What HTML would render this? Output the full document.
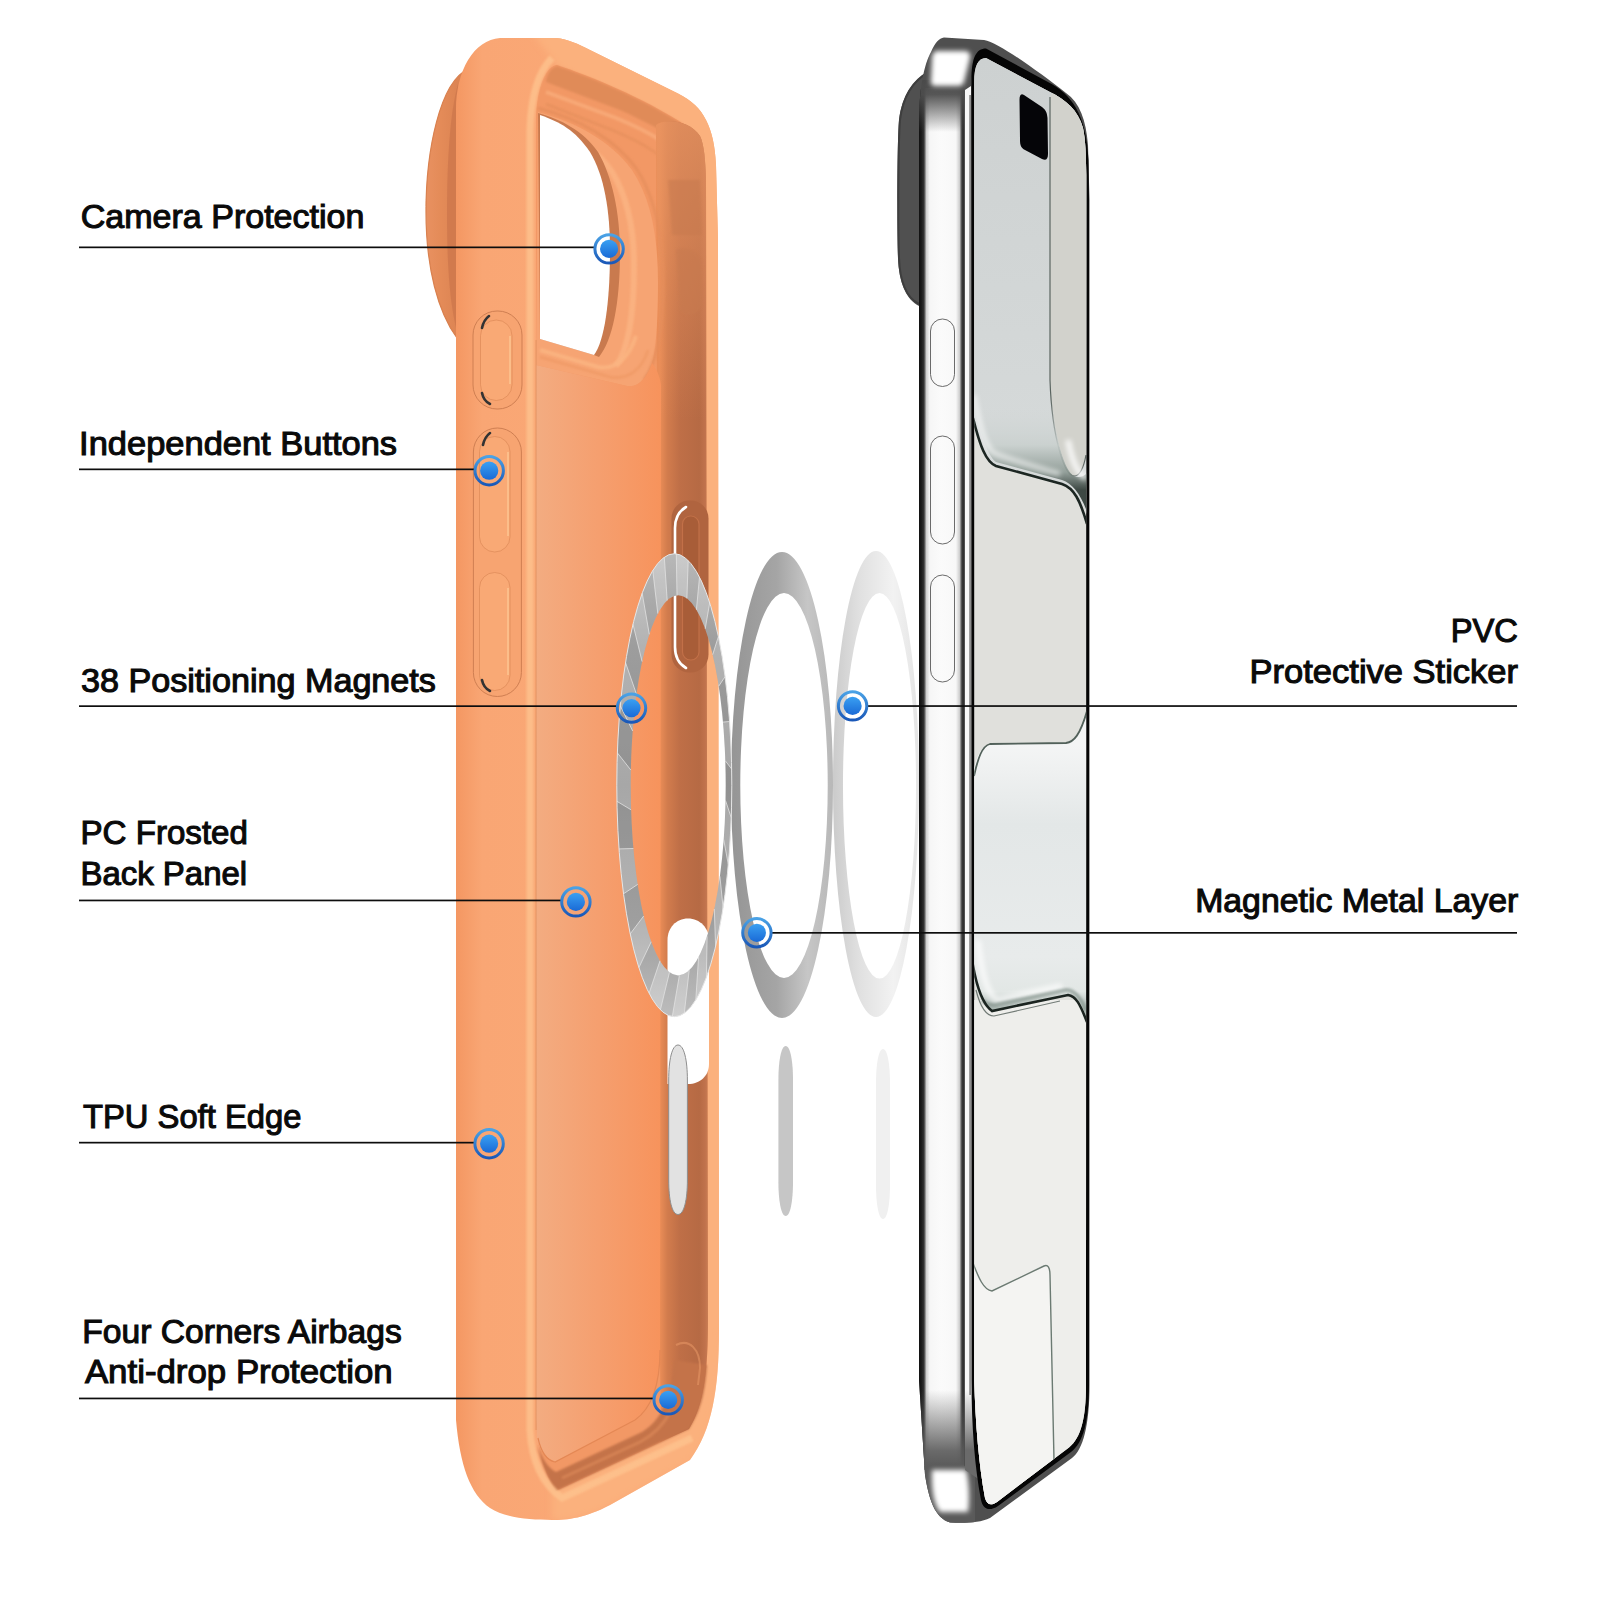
<!DOCTYPE html>
<html><head><meta charset="utf-8">
<style>
html,body{margin:0;padding:0;background:#fff;width:1600px;height:1600px;overflow:hidden}
svg{display:block;position:absolute;left:0;top:0}
.t{font-family:"Liberation Sans",sans-serif;font-size:33.5px;fill:#0a0a0a;stroke:#0a0a0a;stroke-width:1.1px}
</style></head><body>
<svg width="1600" height="1600" viewBox="0 0 1600 1600">
<defs>
  <linearGradient id="gStrip" x1="0" x2="1" y1="0" y2="0">
    <stop offset="0" stop-color="#f49762"/>
    <stop offset="0.1" stop-color="#f9a674"/>
    <stop offset="0.8" stop-color="#fbaa77"/>
    <stop offset="1" stop-color="#fbb07c"/>
  </linearGradient>
  <linearGradient id="gPanel" x1="0" x2="1" y1="0" y2="0">
    <stop offset="0" stop-color="#f3ac81"/>
    <stop offset="0.5" stop-color="#f59f6f"/>
    <stop offset="1" stop-color="#f7935c"/>
  </linearGradient>
  <linearGradient id="gWall" x1="0" x2="1" y1="0" y2="0">
    <stop offset="0" stop-color="#f09262"/>
    <stop offset="0.2" stop-color="#d78252"/>
    <stop offset="0.45" stop-color="#c27248"/>
    <stop offset="1" stop-color="#d5845a"/>
  </linearGradient>
  <linearGradient id="gBump" x1="0" x2="1" y1="0" y2="0">
    <stop offset="0" stop-color="#e99460"/>
    <stop offset="0.6" stop-color="#e08650"/>
    <stop offset="1" stop-color="#c06c42"/>
  </linearGradient>
  <linearGradient id="gRing" x1="0" x2="0" y1="0" y2="1">
    <stop offset="0" stop-color="#4aa2e6"/>
    <stop offset="1" stop-color="#1a58b8"/>
  </linearGradient>
  <linearGradient id="gDot" x1="0" x2="0" y1="0" y2="1">
    <stop offset="0" stop-color="#3aa0f2"/>
    <stop offset="1" stop-color="#1a6ad6"/>
  </linearGradient>
</defs>

<!-- ===== ORANGE CASE ===== -->
<defs>
  <linearGradient id="gWall2" x1="660" x2="709" y1="0" y2="0" gradientUnits="userSpaceOnUse">
    <stop offset="0" stop-color="#ea8d57"/>
    <stop offset="0.15" stop-color="#d27c4d"/>
    <stop offset="0.4" stop-color="#bf6f47"/>
    <stop offset="0.8" stop-color="#b66a44"/>
    <stop offset="0.92" stop-color="#c0724c"/>
    <stop offset="1" stop-color="#cc8055"/>
  </linearGradient>
  <filter id="cblur" x="-20%" y="-20%" width="140%" height="140%"><feGaussianBlur stdDeviation="3"/></filter>
  <filter id="cblur1" x="-20%" y="-20%" width="140%" height="140%"><feGaussianBlur stdDeviation="1.2"/></filter>
</defs>
<!-- camera bump -->
<defs><linearGradient id="gBump2" x1="424" x2="458" y1="0" y2="0" gradientUnits="userSpaceOnUse"><stop offset="0" stop-color="#e99262"/><stop offset="0.5" stop-color="#e48b58"/><stop offset="1" stop-color="#dc8453"/></linearGradient></defs><path d="M468 69 C440 82 426 150 426 212 C426 268 438 312 457 338 L458 90 Z" fill="url(#gBump2)"/>
<path d="M458 84 C450 112 447 160 447 212 C447 262 449 300 457 332 Z" fill="#cf784c" opacity="0.85"/>
<path d="M468 69 C440 82 426 150 426 212 C426 268 438 312 457 338" fill="none" stroke="#d9814f" stroke-width="1.2"/>
<!-- silhouette -->
<path d="M500 38 L556 38 C568 39 578 44 590 50 L678 93.5 C692 101 700 108 706 120 C712 132 715 145 716 165 L718 240 L719 1330 C719 1390 712 1430 690 1460 L610 1505 C585 1518 568 1520 552 1520 C530 1520 505 1518 490 1508 C470 1494 460 1465 456 1420 L456 110 C456 70 474 40 500 38 Z" fill="url(#gStrip)"/>
<!-- top rim light overlay -->
<clipPath id="cpCase"><path d="M500 38 L556 38 C568 39 578 44 590 50 L678 93.5 C692 101 700 108 706 120 C712 132 715 145 716 165 L718 240 L719 1330 C719 1390 712 1430 690 1460 L610 1505 C585 1518 568 1520 552 1520 C530 1520 505 1518 490 1508 C470 1494 460 1465 456 1420 L456 110 C456 70 474 40 500 38 Z"/></clipPath>
<g clip-path="url(#cpCase)"><path d="M530 30 L600 30 L730 90 L730 1330 L719 1330 C719 1390 712 1430 690 1460 L610 1505 C585 1518 568 1520 552 1520 L552 1480 L700 1380 L700 150 L557 65 Z" fill="#fbb17d" filter="url(#cblur)"/></g>
<!-- interior -->
<path d="M557 65 C590 76 640 96 687 126 C697 133 703 145 705.5 172 L708 1320 C708 1370 704 1405 689 1429 L556 1491 C548 1480 540 1460 537 1435 L536 1420 L536 115 C538 80 548 66 557 65 Z" fill="#f29865"/>
<!-- dark band under top rim -->
<path d="M557 66 C590 77 640 97 687 127 C696 133 701 142 703 156 L697 158 C686 144 660 128 620 110 L546 82 C547 74 551 68 557 66 Z" fill="#e08b58" filter="url(#cblur1)"/>
<path d="M546 92 L616 118 C650 132 674 146 690 166" fill="none" stroke="#f9ad7c" stroke-width="4" opacity="0.8" filter="url(#cblur1)"/>
<path d="M546 104 L612 130 C646 144 668 158 680 178" fill="none" stroke="#e28d5a" stroke-width="2.5" opacity="0.6" filter="url(#cblur1)"/>
<!-- right wall -->
<path d="M656 125 C664 118 690 120 700 136 C704 144 705.5 160 706 180 L708 1320 C708 1370 704 1405 689 1429 L660 1442 C662 1420 660 1400 660 1350 Z" fill="url(#gWall2)"/>
<path d="M537 1445 C541 1462 548 1480 556 1491 L689 1429 C700 1412 705 1395 707 1365 L674 1360 C672 1396 662 1420 642 1432 L556 1472 C548 1468 542 1458 537 1445 Z" fill="#c4734a" filter="url(#cblur1)"/>
<defs><linearGradient id="gWallTop" x1="0" x2="0" y1="120" y2="420" gradientUnits="userSpaceOnUse"><stop offset="0" stop-color="#e99562" stop-opacity="0.75"/><stop offset="1" stop-color="#e99562" stop-opacity="0"/></linearGradient></defs>
<path d="M656 125 C664 118 690 120 700 136 C704 144 705.5 160 706 180 L706.5 420 L660 420 Z" fill="url(#gWallTop)"/>
<path d="M668 180 L700 180 L702 235 L672 235 Z M676 250 C684 246 696 248 702 262 L703 300 C700 315 690 318 680 312 Z" fill="#c87a50" opacity="0.55" filter="url(#cblur1)"/>
<!-- bottom inner wall -->
<path d="M562 1478 L640 1442 C655 1434 664 1424 670 1412" fill="none" stroke="#dd8a5a" stroke-width="3" opacity="0.7" filter="url(#cblur1)"/>
<path d="M676 1345 C690 1338 700 1350 700 1368 L698 1385" fill="none" stroke="#e49564" stroke-width="2" opacity="0.6"/>
<!-- camera surround light band -->
<path d="M538 112 C575 122 610 140 632 170 C652 200 658 240 658 282 C658 330 655 355 652 363 C648 375 640 388 627 386 L536 365 Z" fill="#f6a473"/>
<path d="M538 108 C575 118 612 136 636 168 C656 198 663 240 663 282 C663 330 656 364 644 380" fill="none" stroke="#e58e5c" stroke-width="3" opacity="0.8" filter="url(#cblur1)"/>
<path d="M540 125 C570 134 596 148 612 172 C628 198 634 232 634 265 C634 318 628 350 616 366" fill="none" stroke="#fbb382" stroke-width="6" opacity="0.9" filter="url(#cblur1)"/>
<!-- hole inner wall (dark crescent) -->
<path d="M538 113 C562 120 582 130 598 152 C612 176 620 212 620 252 C620 302 613 340 599 357 L594 355 L540 339 Z" fill="#c97a4e"/>
<path d="M540 350 L598 367 C614 370 628 360 636 336" fill="none" stroke="#fbb582" stroke-width="4" opacity="0.85" filter="url(#cblur1)"/>
<path d="M540 357 L610 377 C628 380 642 370 648 350" fill="none" stroke="#ec9560" stroke-width="2.5" opacity="0.6" filter="url(#cblur1)"/>
<!-- back panel -->
<path d="M536 365 L627 386 C640 388 648 375 652 363 C656 368 660 376 661 385 L660 1350 C660 1385 652 1408 635 1420 L555 1462 C545 1458 539 1450 537 1438 L536 1420 Z" fill="url(#gPanel)"/>
<path d="M538 1438 C541 1452 546 1460 555 1462 L635 1420 C652 1408 660 1385 660 1350" fill="none" stroke="#e48855" stroke-width="1.2"/>
<!-- rim highlight along strip inner edge -->
<path d="M552 58 C538 72 531 95 530 130 L530 1430 C532 1465 545 1486 562 1498 L692 1438" fill="none" stroke="#fec590" stroke-width="7" opacity="0.75" filter="url(#cblur1)"/>
<!-- strip inner edge line -->
<rect x="535.5" y="340" width="1.2" height="1090" fill="#e0925f" opacity="0.7"/>
<!-- camera hole -->
<path d="M540 115 C560 122 575 130 590 152 C604 175 610 210 610 250 C610 300 605 340 594 355 L540 339 Z" fill="#fff"/>
<!-- buttons on strip -->
<g>
  <rect x="473" y="311" width="49" height="98" rx="24" fill="#f7a471" stroke="#cf7f52" stroke-width="1"/>
  <path d="M475 340 L475 380" stroke="#c97a4e" stroke-width="2" opacity="0.6" filter="url(#cblur1)"/>
  <rect x="480.5" y="320" width="31.5" height="80.5" rx="15.7" fill="#f9a975" stroke="#e08d5b" stroke-width="0.8"/>
  <path d="M510 336 L510 384" stroke="#fdc18d" stroke-width="2" opacity="0.9"/>
  <rect x="473.4" y="428" width="48" height="268.5" rx="24" fill="#f7a471" stroke="#cf7f52" stroke-width="1"/>
  <path d="M475 460 L475 665" stroke="#c97a4e" stroke-width="2" opacity="0.6" filter="url(#cblur1)"/>
  <rect x="479.5" y="436.5" width="30.5" height="115.5" rx="15.2" fill="#f9a975" stroke="#e08d5b" stroke-width="0.8"/>
  <rect x="479.5" y="572.5" width="30.5" height="118" rx="15.2" fill="#f9a975" stroke="#e08d5b" stroke-width="0.8"/>
  <path d="M508 452 L508 536 M508 588 L508 675" stroke="#fdc18d" stroke-width="2" opacity="0.9"/>
  <path d="M489 316 C485 319 483 323 482 328" fill="none" stroke="#333" stroke-width="2.6" stroke-linecap="round"/>
  <path d="M482 393 C483 398 486 402 490 404" fill="none" stroke="#333" stroke-width="2.6" stroke-linecap="round"/>
  <path d="M490 433 C486 436 484 440 483 445" fill="none" stroke="#333" stroke-width="2.6" stroke-linecap="round"/>
  <path d="M482 680 C483 685 486 689 490 691" fill="none" stroke="#333" stroke-width="2.6" stroke-linecap="round"/>
</g>
<!-- right wall button cutout -->
<rect x="671.5" y="500.5" width="37" height="172" rx="18" fill="#b0643f"/>
<rect x="682.5" y="516" width="16.5" height="144" rx="8" fill="#a85d38" stroke="#c27048" stroke-width="1.2"/>
<path d="M686 507 C679 511 675 518 675 528 L675 647 C675 657 679 664 686 668" fill="none" stroke="#fff" stroke-width="2.6" stroke-linecap="round"/>
<!-- lower hole -->
<path d="M667.5 940 C667.5 928 676 918.5 688 918.5 C700 918.5 709 928 709 940 L709 1064 C709 1076 700 1084 688 1084 L667.5 1084 Z" fill="#fff"/>
<!-- ===== RINGS & BARS ===== -->
<defs>
  <linearGradient id="gR1" x1="0" x2="0" y1="0" y2="1">
    <stop offset="0" stop-color="#c2c2c2"/>
    <stop offset="0.2" stop-color="#a6a6a6"/>
    <stop offset="0.5" stop-color="#999999"/>
    <stop offset="0.8" stop-color="#a8a8a8"/>
    <stop offset="1" stop-color="#c6c6c6"/>
  </linearGradient>
  <linearGradient id="gR2" x1="0" x2="1" y1="0" y2="0">
    <stop offset="0" stop-color="#959595"/>
    <stop offset="0.45" stop-color="#a5a5a5"/>
    <stop offset="0.75" stop-color="#c6c6c6"/>
    <stop offset="1" stop-color="#b8b8b8"/>
  </linearGradient>
  <linearGradient id="gR3" x1="0" x2="1" y1="0" y2="0">
    <stop offset="0" stop-color="#cbcbcb"/>
    <stop offset="0.3" stop-color="#e0e0e0"/>
    <stop offset="0.7" stop-color="#f2f2f2"/>
    <stop offset="1" stop-color="#e4e4e4"/>
  </linearGradient>
</defs>
<path fill-rule="evenodd" fill="url(#gR3)" d="M876 551 A43 233 0 1 0 876 1017 A43 233 0 1 0 876 551 Z M879.5 593 A36.5 192.8 0 1 1 879.5 978.6 A36.5 192.8 0 1 1 879.5 593 Z"/>
<path fill-rule="evenodd" fill="url(#gR2)" d="M782 552 A51 233 0 1 0 782 1018 A51 233 0 1 0 782 552 Z M784 593 A43.7 192.5 0 1 1 784 978 A43.7 192.5 0 1 1 784 593 Z"/>
<path fill-rule="evenodd" fill="url(#gR1)" d="M674.3 553.7 A57.5 231.5 0 1 0 674.3 1016.7 A57.5 231.5 0 1 0 674.3 553.7 Z M678.2 595.2 A47.5 190.1 0 1 1 678.2 975.4 A47.5 190.1 0 1 1 678.2 595.2 Z"/>
<path d="M725.5 800.5L731.2 817.5L730.9 827.1L730.4 836.6L729.8 846.0L729.1 855.3L728.3 864.5L723.7 839.6L724.3 831.9L724.7 824.1L725.1 816.3L725.3 808.4ZM719.9 876.3L723.1 907.9L721.7 916.1L720.3 923.9L718.8 931.6L717.3 939.0L715.6 946.1L714.3 909.0L715.5 902.8L716.7 896.5L717.9 889.9L718.9 883.2ZM707.1 936.3L706.4 977.2L704.4 982.4L702.3 987.3L700.2 991.9L698.0 996.1L695.8 999.9L698.6 957.0L700.4 953.4L702.1 949.6L703.8 945.4L705.5 941.0ZM689.2 970.2L684.3 1013.2L681.9 1014.7L679.5 1015.8L677.1 1016.4L674.7 1016.7L672.3 1016.6L679.4 975.3L681.4 975.0L683.3 974.3L685.3 973.3L687.3 971.9ZM669.5 972.2L660.4 1009.8L658.0 1007.3L655.7 1004.3L653.5 1001.0L651.3 997.3L649.1 993.2L660.0 960.8L661.8 963.7L663.7 966.3L665.6 968.6L667.5 970.5ZM651.2 941.8L638.9 967.6L637.0 961.4L635.2 955.0L633.5 948.3L631.8 941.2L630.2 933.9L643.7 916.0L645.1 921.6L646.5 927.1L648.1 932.2L649.6 937.2ZM637.7 884.4L623.5 893.8L622.4 885.1L621.4 876.3L620.5 867.3L619.7 858.2L619.0 848.9L633.4 848.5L634.1 855.9L634.9 863.3L635.7 870.5L636.7 877.5ZM631.1 809.8L616.9 801.3L616.8 791.6L616.8 781.9L616.9 772.2L617.1 762.5L617.4 752.9L630.9 770.1L630.7 778.1L630.7 786.0L630.7 794.0L630.9 801.9ZM632.7 731.0L620.3 705.9L621.1 696.9L622.1 688.0L623.2 679.3L624.3 670.8L625.5 662.5L636.5 694.3L635.6 701.4L634.7 708.6L634.0 716.0L633.3 723.5ZM642.1 661.6L633.0 624.3L634.7 617.5L636.4 611.0L638.3 604.7L640.2 598.8L642.2 593.2L649.3 634.3L647.8 639.3L646.3 644.5L644.8 650.0L643.5 655.7ZM657.8 613.6L652.8 570.5L655.0 567.1L657.3 564.0L659.6 561.4L662.0 559.1L664.3 557.2L667.2 600.4L665.3 602.4L663.4 604.7L661.5 607.4L659.6 610.3ZM677.0 595.3L676.3 553.8L678.7 554.4L681.1 555.3L683.5 556.7L685.9 558.4L688.2 560.6L686.9 598.4L685.0 597.1L683.0 596.2L681.0 595.5L679.0 595.2ZM696.4 609.8L699.5 577.2L701.7 581.6L703.8 586.4L705.8 591.5L707.8 597.0L709.7 602.8L705.2 628.8L703.5 624.4L701.8 620.3L700.0 616.5L698.3 613.0ZM712.7 654.6L718.4 636.5L719.9 644.0L721.3 651.8L722.6 659.9L723.9 668.1L725.1 676.6L718.7 686.2L717.7 679.5L716.5 673.0L715.3 666.7L714.0 660.5ZM723.0 722.1L729.6 721.5L730.2 730.8L730.7 740.3L731.1 749.9L731.4 759.5L731.7 769.1L725.3 760.8L725.0 752.9L724.6 745.1L724.2 737.3L723.6 729.7Z" fill="#ffffff" opacity="0.14"/>
<path d="M723.7 839.6L728.3 864.5L727.5 873.5L726.5 882.4L725.4 891.1L724.3 899.6L723.1 907.9L719.9 876.3L720.8 869.2L721.7 862.0L722.4 854.6L723.1 847.1ZM714.3 909.0L715.6 946.1L713.9 952.9L712.2 959.4L710.3 965.7L708.4 971.6L706.4 977.2L707.1 936.3L708.6 931.3L710.1 926.1L711.6 920.6L712.9 914.9ZM698.6 957.0L695.8 999.9L693.6 1003.3L691.3 1006.4L689.0 1009.0L686.6 1011.3L684.3 1013.2L689.2 970.2L691.1 968.2L693.0 965.9L694.9 963.2L696.8 960.3ZM679.4 975.3L672.3 1016.6L669.9 1016.0L667.5 1015.1L665.1 1013.7L662.7 1012.0L660.4 1009.8L669.5 972.2L671.4 973.5L673.4 974.4L675.4 975.1L677.4 975.4ZM660.0 960.8L649.1 993.2L646.9 988.8L644.8 984.0L642.8 978.9L640.8 973.4L638.9 967.6L651.2 941.8L652.9 946.2L654.6 950.3L656.4 954.1L658.1 957.6ZM643.7 916.0L630.2 933.9L628.7 926.4L627.3 918.6L626.0 910.5L624.7 902.3L623.5 893.8L637.7 884.4L638.7 891.1L639.9 897.6L641.1 903.9L642.4 910.1ZM633.4 848.5L619.0 848.9L618.4 839.6L617.9 830.1L617.5 820.5L617.2 810.9L616.9 801.3L631.1 809.8L631.4 817.7L631.8 825.5L632.2 833.3L632.8 840.9ZM630.9 770.1L617.4 752.9L617.7 743.3L618.2 733.8L618.8 724.4L619.5 715.1L620.3 705.9L632.7 731.0L632.1 738.7L631.7 746.5L631.3 754.3L631.1 762.2ZM636.5 694.3L625.5 662.5L626.9 654.3L628.3 646.5L629.8 638.8L631.3 631.4L633.0 624.3L642.1 661.6L640.9 667.8L639.7 674.1L638.5 680.7L637.5 687.4ZM649.3 634.3L642.2 593.2L644.2 588.0L646.3 583.1L648.4 578.5L650.6 574.3L652.8 570.5L657.8 613.6L656.0 617.2L654.3 621.0L652.6 625.2L650.9 629.6ZM667.2 600.4L664.3 557.2L666.7 555.7L669.1 554.6L671.5 554.0L673.9 553.7L676.3 553.8L677.0 595.3L675.0 595.6L673.1 596.3L671.1 597.3L669.1 598.7ZM686.9 598.4L688.2 560.6L690.6 563.1L692.9 566.1L695.1 569.4L697.3 573.1L699.5 577.2L696.4 609.8L694.6 606.9L692.7 604.3L690.8 602.0L688.9 600.1ZM705.2 628.8L709.7 602.8L711.6 609.0L713.4 615.4L715.1 622.1L716.8 629.2L718.4 636.5L712.7 654.6L711.3 649.0L709.9 643.5L708.3 638.4L706.8 633.4ZM718.7 686.2L725.1 676.6L726.2 685.3L727.2 694.1L728.1 703.1L728.9 712.2L729.6 721.5L723.0 722.1L722.3 714.7L721.5 707.3L720.7 700.1L719.7 693.1ZM725.3 760.8L731.7 769.1L731.8 778.8L731.8 788.5L731.7 798.2L731.5 807.9L731.2 817.5L725.5 800.5L725.7 792.5L725.7 784.6L725.7 776.6L725.5 768.7Z" fill="#000000" opacity="0.05"/>

<path d="M725.5 800.5L731.2 817.5M723.7 839.6L728.3 864.5M719.9 876.3L723.1 907.9M714.3 909.0L715.6 946.1M707.1 936.3L706.4 977.2M698.6 957.0L695.8 999.9M689.2 970.2L684.3 1013.2M679.4 975.3L672.3 1016.6M669.5 972.2L660.4 1009.8M660.0 960.8L649.1 993.2M651.2 941.8L638.9 967.6M643.7 916.0L630.2 933.9M637.7 884.4L623.5 893.8M633.4 848.5L619.0 848.9M631.1 809.8L616.9 801.3M630.9 770.1L617.4 752.9M632.7 731.0L620.3 705.9M636.5 694.3L625.5 662.5M642.1 661.6L633.0 624.3M649.3 634.3L642.2 593.2M657.8 613.6L652.8 570.5M667.2 600.4L664.3 557.2M677.0 595.3L676.3 553.8M686.9 598.4L688.2 560.6M696.4 609.8L699.5 577.2M705.2 628.8L709.7 602.8M712.7 654.6L718.4 636.5M718.7 686.2L725.1 676.6M723.0 722.1L729.6 721.5M725.3 760.8L731.7 769.1" stroke="#e2e2e2" stroke-width="0.8" fill="none"/>
<path fill="none" stroke="#e6e6e6" stroke-width="1" d="M674.3 553.7 A57.5 231.5 0 1 0 674.3 1016.7 A57.5 231.5 0 1 0 674.3 553.7 Z"/>
<path d="M678 1045 C684 1045 687.4 1060 687.4 1080 L687.4 1180 C687.4 1200 684 1214.5 678 1214.5 C672 1214.5 668.7 1200 668.7 1180 L668.7 1080 C668.7 1060 672 1045 678 1045 Z" fill="#e2e2e2" stroke="#8e8e8e" stroke-width="1"/>
<path d="M785.7 1046 C790.5 1046 793 1062 793 1080 L793 1182 C793 1200 790.5 1216 785.7 1216 C781 1216 778.4 1200 778.4 1182 L778.4 1080 C778.4 1062 781 1046 785.7 1046 Z" fill="#c6c6c6"/>
<path d="M883 1049 C887.5 1049 890 1065 890 1083 L890 1185 C890 1203 887.5 1219 883 1219 C878.5 1219 876 1203 876 1185 L876 1083 C876 1065 878.5 1049 883 1049 Z" fill="#f0f0f0"/>

<!-- ===== PHONE ===== -->
<g id="phone">
  <defs>
    <clipPath id="cpPhone"><path d="M944 37.5 L984 40 C1000 43 1040 73 1066 93 C1080 103 1086 120 1088 145 L1089.5 200 L1089.5 1385 C1089.5 1425 1083 1450 1072 1458 L990 1518 C980 1523 965 1523 950 1522.5 C935 1518 929 1500 925 1475 L919 1380 L919 124 C919 90 924 64 931 52 C935 43 939 38 944 37.5 Z"/></clipPath>
    <clipPath id="cpScreen"><path d="M986 58 L1050 92 C1066 100 1078 110 1083 128 C1085.5 140 1086 155 1086.3 175 L1086.3 200 L1086 1385 C1086 1418 1081 1438 1069 1447.5 L997 1502 C991 1506 987 1505 985 1498 C979 1465 975.5 1425 974.2 1380 L974.2 82 C974.2 66 978 58 986 58 Z"/></clipPath>
    <linearGradient id="gRail" x1="919" x2="964" y1="0" y2="0" gradientUnits="userSpaceOnUse">
      <stop offset="0" stop-color="#111"/>
      <stop offset="0.05" stop-color="#1a1a1a"/>
      <stop offset="0.11" stop-color="#333"/>
      <stop offset="0.165" stop-color="#d0d0d0"/>
      <stop offset="0.24" stop-color="#f6f6f6"/>
      <stop offset="0.5" stop-color="#fbfbfb"/>
      <stop offset="0.82" stop-color="#f8f8f8"/>
      <stop offset="0.9" stop-color="#cfcfcf"/>
      <stop offset="0.955" stop-color="#383838"/>
      <stop offset="1" stop-color="#2e2e2e"/>
    </linearGradient>
    <linearGradient id="gRailV" x1="0" x2="0" y1="80" y2="132" gradientUnits="userSpaceOnUse">
      <stop offset="0" stop-color="#4a4a4a" stop-opacity="1"/>
      <stop offset="0.28" stop-color="#4e4e4e" stop-opacity="0.95"/>
      <stop offset="1" stop-color="#4a4a4a" stop-opacity="0"/>
    </linearGradient>
    <linearGradient id="gRailB" x1="0" x2="0" y1="1390" y2="1466" gradientUnits="userSpaceOnUse">
      <stop offset="0" stop-color="#5a5a5a" stop-opacity="0"/>
      <stop offset="0.8" stop-color="#5a5a5a" stop-opacity="0.9"/>
      <stop offset="1" stop-color="#5a5a5a" stop-opacity="1"/>
    </linearGradient>
    <filter id="blur2" x="-50%" y="-50%" width="200%" height="200%"><feGaussianBlur stdDeviation="2.5"/></filter>
    <filter id="blur1" x="-50%" y="-50%" width="200%" height="200%"><feGaussianBlur stdDeviation="1"/></filter>
    <linearGradient id="gScrTop" x1="0" x2="0" y1="60" y2="470" gradientUnits="userSpaceOnUse">
      <stop offset="0" stop-color="#cdd1d1"/>
      <stop offset="1" stop-color="#d6dada"/>
    </linearGradient>
    <linearGradient id="gWave1" x1="0" x2="0" y1="400" y2="490" gradientUnits="userSpaceOnUse">
      <stop offset="0" stop-color="#d6dada" stop-opacity="0"/>
      <stop offset="0.5" stop-color="#c9d0ce"/>
      <stop offset="0.8" stop-color="#8d9a94"/>
      <stop offset="1" stop-color="#2c3833"/>
    </linearGradient>
    <linearGradient id="gPanelA" x1="0" x2="0" y1="745" y2="1010" gradientUnits="userSpaceOnUse">
      <stop offset="0" stop-color="#f4f5f5"/>
      <stop offset="0.3" stop-color="#e3e7e7"/>
      <stop offset="0.8" stop-color="#e8ebeb"/>
      <stop offset="0.93" stop-color="#e2e7e5"/>
      <stop offset="1" stop-color="#a9b5b0"/>
    </linearGradient>
  </defs>
  <!-- camera bump -->
  <path d="M931 70 C915 78 902 94 899 120 C897 145 897 230 898 258 C899 284 907 300 919 306 L921 90 Z" fill="#505050"/>
  <path d="M929 72 C914 80 903 96 900 120 C898 145 898 230 899 258 C900 283 907 298 919 304" fill="none" stroke="#3e3e3e" stroke-width="2"/>
  <!-- silhouette -->
  <path d="M944 37.5 L984 40 C1000 43 1040 73 1066 93 C1080 103 1086 120 1088 145 L1089.5 200 L1089.5 1385 C1089.5 1425 1083 1450 1072 1458 L990 1518 C980 1523 965 1523 950 1522.5 C935 1518 929 1500 925 1475 L919 1380 L919 124 C919 90 924 64 931 52 C935 43 939 38 944 37.5 Z" fill="#4f4f4f"/>
  <g clip-path="url(#cpPhone)">
    <rect x="919" y="88" width="45" height="1382" fill="url(#gRail)"/>
    <rect x="919" y="80" width="45" height="52" fill="url(#gRailV)"/>
    <rect x="919" y="1390" width="45" height="80" fill="url(#gRailB)"/>
    <path d="M919 1466 L975 1466 L975 1530 L919 1530 Z" fill="#5a5a5a"/>
    <!-- windows -->
    <path d="M937 51 L965 51 C969 51 971 54 970 58 L964 82 C963 85 961 86 958 86 L936 86 C932 86 930 84 931 80 L932 59 C932 54 934 51 937 51 Z" fill="#fff" filter="url(#blur2)"/>
    <path d="M932 1470 L966 1470 C969 1480 970 1500 968 1512 L940 1512 C934 1505 931 1490 932 1470 Z" fill="#fff" filter="url(#blur2)"/>
    <!-- gap -->
    <defs><linearGradient id="gGap" x1="0" x2="0" y1="1390" y2="1450" gradientUnits="userSpaceOnUse"><stop offset="0" stop-color="#f8f8f8"/><stop offset="1" stop-color="#6a6a6a"/></linearGradient></defs><path d="M965 90 L971 86 L972 1390 C974 1430 977 1460 980 1480 L965 1470 Z" fill="url(#gGap)"/>
    <rect x="969.2" y="95" width="1.8" height="1300" fill="#8c8c8c"/>
  </g>
  <!-- buttons -->
  <rect x="930.5" y="319" width="24" height="67.5" rx="12" fill="none" stroke="#5a5a5a" stroke-width="0.9"/>
  <rect x="930.5" y="436" width="24" height="108" rx="12" fill="none" stroke="#5a5a5a" stroke-width="0.9"/>
  <rect x="930.5" y="575" width="24" height="107" rx="12" fill="none" stroke="#5a5a5a" stroke-width="0.9"/>
  <!-- screen black border -->
  <path d="M986 48.5 L1047 81.5 C1060 88 1070 97 1076 108 C1083 120 1087 135 1088.5 160 L1089 200 L1089 1385 C1089 1422 1083 1443 1071 1452 L998 1506 C989 1512 983 1509 981 1500 C975 1468 971.5 1428 971.5 1380 L971.5 80 C971.5 58 976 48.5 986 48.5 Z" fill="#050505"/>
  <!-- screen -->
  <g clip-path="url(#cpScreen)">
    <rect x="970" y="40" width="120" height="1480" fill="#e0e0dc"/>
    <!-- top panel -->
    <path d="M970 40 L1090 40 L1090 520 C1080 500 1075 488 1062 484 L995 466 C985 462 978 445 974.5 425 L970 420 Z" fill="url(#gScrTop)"/>
    <path d="M1050 97 L1050 380 C1052 440 1065 476 1074 476 C1080 476 1084 466 1086 455 L1090 455 L1090 40 Z" fill="#d2d2cc"/>
    <path d="M1050 97 L1050 380 C1052 440 1065 476 1074 476 C1080 476 1084 466 1086 455" fill="none" stroke="#5a6460" stroke-width="1.2"/>
    <path d="M970 360 C976 420 984 452 996 462 L1062 480 C1074 484 1082 496 1090 520 L1090 470 C1084 478 1078 478 1074 476 C1064 470 1056 440 1052 400 Z" fill="url(#gWave1)" opacity="0.9"/>
    <path d="M974 395 C980 430 986 448 994 453 C1010 460 1040 468 1060 474" fill="none" stroke="#ffffff" stroke-width="5" opacity="0.6" filter="url(#blur2)"/>
    <path d="M1068 440 C1072 462 1078 474 1086 478" fill="none" stroke="#ffffff" stroke-width="6" opacity="0.8" filter="url(#blur2)"/>
    <path d="M973 418 C980 446 986 462 996 466 L1062 484 C1074 488 1080 500 1087 524" fill="none" stroke="#1c2622" stroke-width="2.6"/>
    <!-- middle panel -->
    <rect x="970" y="1000" width="120" height="520" fill="#eeeeeb"/>
    <path d="M970 790 C974 760 980 746 990 744 L1066 743 C1074 742 1080 735 1090 705 L1090 1030 C1084 1008 1080 998 1070 995 L992 1011 C982 1006 976 990 970 965 Z" fill="url(#gPanelA)"/>
    <path d="M974 776 C978 758 982 746 990 744 L1066 743 C1074 742 1080 735 1087 711" fill="none" stroke="#52615a" stroke-width="1.8"/>
    <path d="M978 940 C981 972 987 994 997 1000 L1062 986" fill="none" stroke="#ffffff" stroke-width="6" opacity="0.7" filter="url(#blur2)"/>
    <path d="M982 1000 C986 1004 990 1006 996 1005 L1066 990 C1074 990 1080 996 1086 1010" fill="none" stroke="#7d8c85" stroke-width="4" opacity="0.6" filter="url(#blur1)"/>
    <path d="M972 960 C976 985 982 1004 992 1011 L1068 995 C1076 996 1080 1004 1087 1022" fill="none" stroke="#1b2420" stroke-width="2.6"/>
    <path d="M976 990 C980 1006 986 1016 994 1016 L1060 1001" fill="none" stroke="#3d4a44" stroke-width="1.2" opacity="0.7"/>
    <!-- lower panel -->
    <path d="M970 1255 C979 1280 984 1290 992 1291 L1044 1266 C1048 1264 1050 1268 1050 1275 L1054 1520 L970 1520 Z" fill="#f4f4f2"/>
    <path d="M970 1255 C979 1280 984 1290 992 1291 L1044 1266 C1048 1264 1050 1268 1050 1275 L1054 1460" fill="none" stroke="#6b7a72" stroke-width="1.4"/>
    <!-- notch -->
    <path d="M1024 95 L1042 107 C1046 110 1047 113 1047.5 118 L1048 154 C1048 159 1046 161 1042 159 L1025 150 C1021 148 1020 145 1020 140 L1019.5 100 C1019.5 95 1021 93 1024 95 Z" fill="#050508"/>
  </g>
</g>
<!-- ===== LABEL LINES ===== -->
<g fill="#0d0d0d">
  <rect x="79" y="246.5" width="515" height="1.7"/>
  <rect x="79" y="468.5" width="395" height="1.7"/>
  <rect x="79" y="705.3" width="537" height="1.7"/>
  <rect x="79" y="899.6" width="482" height="1.7"/>
  <rect x="79" y="1141.8" width="395" height="1.7"/>
  <rect x="79" y="1397.6" width="575" height="1.7"/>
  <rect x="867" y="705.2" width="650" height="1.7"/>
  <rect x="771" y="932" width="746" height="1.7"/>
</g>

<!-- ===== DOTS ===== -->
<g id="dots">
  <g transform="translate(609.1 248.9)"><circle r="14.2" fill="none" stroke="url(#gRing)" stroke-width="3"/><circle r="9.1" fill="url(#gDot)"/></g>
  <g transform="translate(489.2 470.7)"><circle r="14.2" fill="none" stroke="url(#gRing)" stroke-width="3"/><circle r="9.1" fill="url(#gDot)"/></g>
  <g transform="translate(631.5 708.1)"><circle r="14.2" fill="none" stroke="url(#gRing)" stroke-width="3"/><circle r="9.1" fill="url(#gDot)"/></g>
  <g transform="translate(575.9 901.9)"><circle r="14.2" fill="none" stroke="url(#gRing)" stroke-width="3"/><circle r="9.1" fill="url(#gDot)"/></g>
  <g transform="translate(489.1 1143.7)"><circle r="14.2" fill="none" stroke="url(#gRing)" stroke-width="3"/><circle r="9.1" fill="url(#gDot)"/></g>
  <g transform="translate(668.2 1399.9)"><circle r="14.2" fill="none" stroke="url(#gRing)" stroke-width="3"/><circle r="9.1" fill="url(#gDot)"/></g>
  <g transform="translate(852.6 705.9)"><circle r="14.2" fill="none" stroke="url(#gRing)" stroke-width="3"/><circle r="9.1" fill="url(#gDot)"/></g>
  <g transform="translate(756.9 932.8)"><circle r="14.2" fill="none" stroke="url(#gRing)" stroke-width="3"/><circle r="9.1" fill="url(#gDot)"/></g>
</g>

<!-- ===== TEXT ===== -->
<text class="t" x="80.8" y="228" textLength="283.6" lengthAdjust="spacingAndGlyphs">Camera Protection</text>
<text class="t" x="79.1" y="454.6" textLength="318" lengthAdjust="spacingAndGlyphs">Independent Buttons</text>
<text class="t" x="81" y="691.8" textLength="354.9" lengthAdjust="spacingAndGlyphs">38 Positioning Magnets</text>
<text class="t" x="80.5" y="844" textLength="167.4" lengthAdjust="spacingAndGlyphs">PC Frosted</text>
<text class="t" x="80.5" y="884.8" textLength="166.6" lengthAdjust="spacingAndGlyphs">Back Panel</text>
<text class="t" x="83" y="1128" textLength="218.4" lengthAdjust="spacingAndGlyphs">TPU Soft Edge</text>
<text class="t" x="82.3" y="1342.6" textLength="319.4" lengthAdjust="spacingAndGlyphs">Four Corners Airbags</text>
<text class="t" x="84.9" y="1382.7" textLength="307.8" lengthAdjust="spacingAndGlyphs">Anti-drop Protection</text>
<text class="t" x="1517.9" y="641.8" text-anchor="end" textLength="67.2" lengthAdjust="spacingAndGlyphs">PVC</text>
<text class="t" x="1518" y="683" text-anchor="end" textLength="268.4" lengthAdjust="spacingAndGlyphs">Protective Sticker</text>
<text class="t" x="1518.2" y="911.5" text-anchor="end" textLength="323" lengthAdjust="spacingAndGlyphs">Magnetic Metal Layer</text>
</svg>
</body></html>
